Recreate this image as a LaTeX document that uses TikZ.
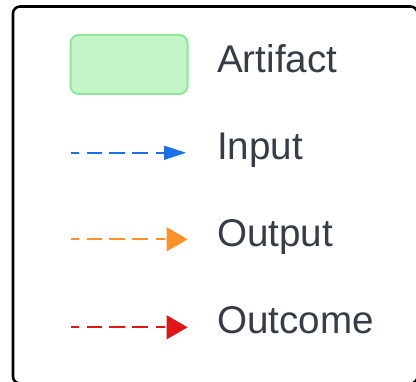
\documentclass[tikz,border=0pt]{standalone}
\usepackage{fontspec}
\setmainfont{Liberation Sans}
\usetikzlibrary{calc}

\definecolor{legendtext}{RGB}{54,61,71}
\definecolor{artfill}{RGB}{195,245,199}
\definecolor{artdraw}{RGB}{143,230,154}
\definecolor{legblue}{RGB}{26,112,232}
\definecolor{legorange}{RGB}{255,145,40}
\definecolor{legred}{RGB}{224,21,21}

\tikzset{
  legendlabel/.style={anchor=base west, inner sep=0pt, text=legendtext,
    font=\fontsize{38.6}{42}\selectfont},
}

% dashed shaft starting at #1 (dashes laid as thin filled bars), then a filled
% head of length #3 and half width #4 ending at #2
\newcommand{\legendarrow}[5]{%
  \begin{scope}[color=#5]
    \foreach \ds/\de in {0/8.5,16/31,38/54,61/77,85/94}
      \fill ($(#1)+(\ds,-0.85)$) rectangle ($(#1)+(\de,0.85)$);
    \fill (#2) -- ($(#2)+(-#3,-#4)$) -- ($(#2)+(-#3,#4)$) -- cycle;
  \end{scope}
}

\begin{document}
\begin{tikzpicture}[x=1pt, y=-1pt]
  \useasboundingbox (0,0) rectangle (416,382);

  % legend frame, running past the right and bottom edges
  \draw[line width=2.6pt, rounded corners=7pt] (13,6.5) rectangle (417.5,383.5);

  % artifact swatch
  \node[draw=artdraw, fill=artfill, line width=2pt, rounded corners=8pt,
        minimum width=117pt, minimum height=59pt, inner sep=0pt]
        (artifact) at (129,64.5) {};

  % sample arrows: input, output, outcome
  \coordinate (inA) at (70.5,152.8);
  \coordinate (inB) at (186,152.8);
  \coordinate (outA) at (70.5,239.3);
  \coordinate (outB) at (187.5,239.3);
  \coordinate (ocA) at (70.5,327.3);
  \coordinate (ocB) at (187.5,327.3);
  \legendarrow{inA}{inB}{22}{7.2}{legblue}
  \legendarrow{outA}{outB}{21}{12.2}{legorange}
  \legendarrow{ocA}{ocB}{21}{12.2}{legred}

  % labels
  \node[legendlabel] (artlabel) at (217,72.7) {Artifact};
  \node[legendlabel] (inlabel) at (217,159.5) {Input};
  \node[legendlabel] (outlabel) at (217,246.5) {Output};
  \node[legendlabel] (oclabel) at (217,333.5) {Outcome};
\end{tikzpicture}
\end{document}
